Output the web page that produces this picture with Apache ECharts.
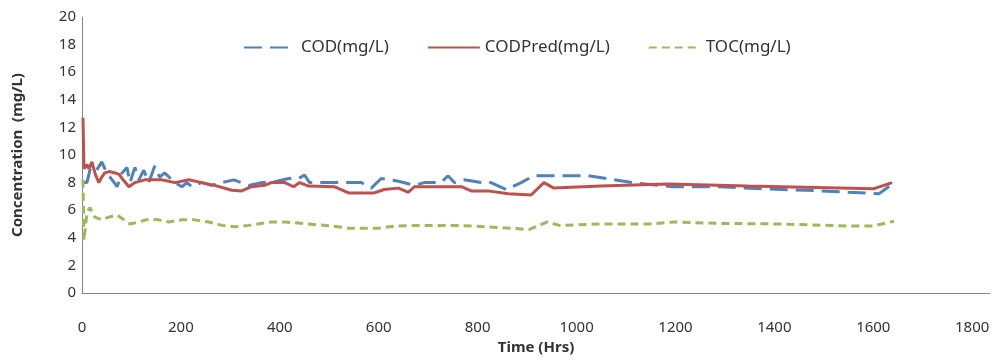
<!DOCTYPE html>
<html>
<head>
<meta charset="utf-8">
<script src="https://cdn.jsdelivr.net/npm/echarts@6/dist/echarts.min.js"></script>
<style>
  html, body { margin: 0; padding: 0; background: #fff; }
  #chart { width: 993px; height: 362px; }
</style>
</head>
<body>
<div id="chart"></div>
<script>
// COD measured (mg/L)
const codHrs = [2, 10, 16, 26, 40, 50, 61, 71, 81, 91, 97, 107, 115, 125, 135, 147, 157, 167, 188, 202, 212, 222, 242, 262, 282, 307, 337, 363, 383, 418, 438, 450, 460, 484, 531, 565, 585, 605, 640, 672, 692, 726, 740, 753, 773, 807, 827, 858, 888, 914, 934, 1023, 1112, 1193, 1288, 1375, 1462, 1551, 1612, 1642];
const codVal = [8.0, 8.0, 8.9, 8.7, 9.5, 8.7, 8.2, 7.7, 8.7, 9.1, 8.0, 9.1, 8.2, 8.9, 8.0, 9.2, 8.4, 8.7, 8.0, 7.7, 8.0, 7.7, 8.0, 7.8, 8.0, 8.2, 7.8, 8.0, 8.0, 8.3, 8.3, 8.55, 8.0, 8.0, 8.0, 8.0, 7.6, 8.3, 8.1, 7.8, 8.0, 8.0, 8.5, 8.0, 8.2, 8.0, 8.0, 7.5, 8.0, 8.5, 8.5, 8.5, 8.0, 7.7, 7.7, 7.55, 7.45, 7.3, 7.2, 8.0];

// COD predicted (mg/L)
const predHrs = [2, 4, 10, 14, 20, 27, 34, 40, 46, 55, 67, 75, 81, 95, 107, 127, 145, 161, 188, 216, 242, 268, 303, 323, 343, 369, 383, 410, 428, 440, 458, 510, 539, 591, 611, 640, 660, 672, 720, 767, 787, 821, 862, 908, 934, 954, 1049, 1184, 1346, 1600, 1638];
const predVal = [12.7, 9.0, 9.3, 9.0, 9.5, 8.6, 8.0, 8.4, 8.7, 8.8, 8.7, 8.6, 8.3, 7.7, 8.0, 8.2, 8.2, 8.2, 8.0, 8.2, 8.0, 7.8, 7.45, 7.4, 7.7, 7.8, 8.0, 8.0, 7.7, 8.0, 7.75, 7.7, 7.25, 7.25, 7.5, 7.6, 7.3, 7.7, 7.7, 7.7, 7.4, 7.4, 7.2, 7.1, 8.0, 7.6, 7.75, 7.9, 7.75, 7.55, 8.0];

// TOC (mg/L)
const tocHrs = [2, 4, 10, 16, 26, 40, 54, 71, 85, 97, 115, 135, 155, 176, 202, 228, 256, 283, 309, 337, 383, 410, 458, 505, 539, 600, 633, 681, 762, 815, 884, 904, 941, 965, 1052, 1147, 1199, 1280, 1416, 1551, 1598, 1642];
const tocVal = [8.2, 3.8, 5.8, 6.2, 5.5, 5.3, 5.5, 5.65, 5.3, 5.0, 5.15, 5.35, 5.3, 5.15, 5.3, 5.3, 5.15, 4.9, 4.8, 4.9, 5.15, 5.15, 5.0, 4.85, 4.7, 4.7, 4.85, 4.9, 4.9, 4.8, 4.65, 4.6, 5.15, 4.9, 5.0, 5.0, 5.15, 5.05, 5.0, 4.85, 4.85, 5.2];

const seriesNames = ['COD(mg/L)', 'CODPred(mg/L)', 'TOC(mg/L)'];

const pair = (xs, ys) => xs.map((x, i) => [x, ys[i]]);

const font = 'Noto Sans';
const textColor = '#333';
const axisColor = '#868686';

const myChart = echarts.init(document.getElementById('chart'));
const option = {
  animation: false,
  grid: { left: 82, right: 3, top: 17, bottom: 69 },
  legend: {
    left: 238,
    top: 34,
    itemWidth: 52,
    itemHeight: 14,
    itemGap: 38,
    itemStyle: { opacity: 0 },
    textStyle: { fontFamily: font, fontSize: 17, color: textColor },
    data: seriesNames,
  },
  xAxis: {
    type: 'value',
    min: 0,
    max: 1836,
    interval: 200,
    name: 'Time (Hrs)',
    nameLocation: 'middle',
    nameGap: 47,
    nameTextStyle: { fontFamily: font, fontSize: 15, fontWeight: 'bold', color: textColor },
    axisLine: { lineStyle: { color: axisColor, width: 1 } },
    axisTick: { show: false },
    splitLine: { show: false },
    axisLabel: {
      margin: 27,
      fontFamily: font,
      fontSize: 15,
      color: textColor,
      showMaxLabel: false,
      formatter: (v) => String(v),
    },
  },
  yAxis: {
    type: 'value',
    min: 0,
    max: 20,
    interval: 2,
    name: 'Concentration  (mg/L)',
    nameLocation: 'middle',
    nameGap: 57,
    nameTextStyle: { fontFamily: font, fontSize: 15, fontWeight: 'bold', color: textColor },
    axisLine: { show: true, lineStyle: { color: axisColor, width: 1 } },
    axisTick: { show: false },
    splitLine: { show: false },
    axisLabel: { margin: 6, fontFamily: font, fontSize: 15, color: textColor },
  },
  series: [
    {
      name: seriesNames[0],
      type: 'line',
      data: pair(codHrs, codVal),
      symbol: 'none',
      lineStyle: { color: '#4F81BD', width: 3, type: [18, 8] },
      itemStyle: { color: '#4F81BD' },
      z: 2,
    },
    {
      name: seriesNames[1],
      type: 'line',
      data: pair(predHrs, predVal),
      symbol: 'none',
      lineStyle: { color: '#C0504D', width: 3 },
      itemStyle: { color: '#C0504D' },
      z: 3,
    },
    {
      name: seriesNames[2],
      type: 'line',
      data: pair(tocHrs, tocVal),
      symbol: 'none',
      lineStyle: { color: '#9BBB59', width: 3, type: [8, 5] },
      itemStyle: { color: '#9BBB59' },
      z: 2,
    },
  ],
};
myChart.setOption(option);
</script>
</body>
</html>
